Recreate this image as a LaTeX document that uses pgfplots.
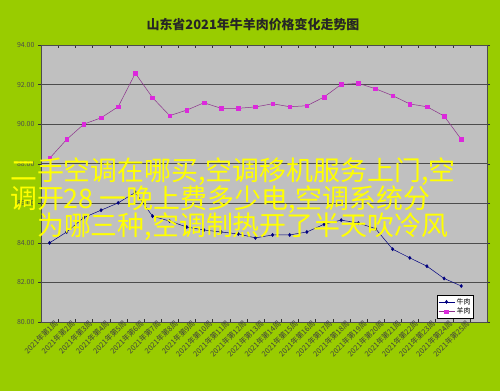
\documentclass[border=0pt]{standalone}
\usepackage{pgfplots}
\pgfplotsset{compat=1.18}
\usepackage{fontspec}
\setmainfont{Noto Sans CJK SC}
\definecolor{bg}{RGB}{153,204,0}
\definecolor{plotbg}{RGB}{192,192,192}
\definecolor{beef}{RGB}{0,0,128}
\definecolor{mutline}{RGB}{140,50,140}
\definecolor{mutmark}{RGB}{220,40,220}
\definecolor{overlay}{RGB}{255,255,0}
\begin{document}
\begin{tikzpicture}
\fill[bg] (0,0) rectangle (500bp,391bp);
\useasboundingbox (0,0) rectangle (500bp,391bp);
\node[font=\fontsize{13}{15}\selectfont\bfseries, text=black!85] at (253bp,366bp) {山东省2021年牛羊肉价格变化走势图};
\begin{axis}[
  at={(41bp,69bp)}, anchor=south west,
  width=446bp, height=277bp, scale only axis,
  xmin=0.5, xmax=26.5, ymin=80, ymax=94,
  axis background/.style={fill=plotbg},
  axis line style={black!70, line width=0.6bp},
  ytick={80,82,...,94},
  /pgf/number format/assume math mode=true,
  y tick label style={font=\fontsize{7}{8}\selectfont, text=black!70, /pgf/number format/fixed, /pgf/number format/fixed zerofill, /pgf/number format/precision=2},
  xtick={1,...,25},
  xticklabels={2021年第1周,2021年第2周,2021年第3周,2021年第4周,2021年第5周,2021年第6周,2021年第7周,2021年第8周,2021年第9周,2021年第10周,2021年第11周,2021年第12周,2021年第13周,2021年第14周,2021年第15周,2021年第16周,2021年第17周,2021年第18周,2021年第19周,2021年第20周,2021年第21周,2021年第22周,2021年第23周,2021年第24周,2021年第25周},
  x tick label style={font=\fontsize{7.5}{8}\selectfont, text=black!75, rotate=45, anchor=north east, inner sep=1bp, xshift=6bp},
  major x tick style={draw=none},
  minor xtick={0.5,1.5,...,26.5},
  minor x tick style={black!80},
  xtick align=inside, ytick align=outside,
  minor tick length=3bp, major tick length=3bp,
  major y tick style={black!80},
  ymajorgrids,
  major grid style={draw=black!70, line width=0.6bp},
  legend style={at={(rel axis cs:0.888,0.0975)}, anchor=north west, font=\fontsize{7}{8}\selectfont, draw=black, fill=white, inner sep=1bp, row sep=-1.5bp, cells={anchor=west}},
  legend image code/.code={\draw[#1, mark repeat=2, mark phase=2] plot coordinates {(0bp,0bp) (8bp,0bp) (16bp,0bp)};},
]
\addplot[beef, line width=0.5bp, mark=diamond*, mark size=1.6bp, mark options={fill=beef}] coordinates {
(1,84.00) (2,84.55) (3,85.28) (4,85.65) (5,86.02) (6,86.55) (7,85.35) (8,85.10) (9,84.80) (10,84.65) (11,84.55) (12,84.45) (13,84.25) (14,84.40) (15,84.40) (16,84.55) (17,84.94) (18,85.15) (19,85.00) (20,84.72) (21,83.68) (22,83.24) (23,82.82) (24,82.20) (25,81.82)};
\addlegendentry{牛肉}
\addplot[mutline, line width=0.5bp, mark=square*, mark size=1.8bp, mark options={fill=mutmark, draw=mutmark}] coordinates {
(1,88.27) (2,89.23) (3,90.00) (4,90.32) (5,90.88) (6,92.57) (7,91.34) (8,90.43) (9,90.71) (10,91.08) (11,90.80) (12,90.80) (13,90.87) (14,91.03) (15,90.88) (16,90.93) (17,91.37) (18,92.01) (19,92.06) (20,91.79) (21,91.44) (22,91.02) (23,90.88) (24,90.41) (25,89.23)};
\addlegendentry{羊肉}
\end{axis}
\node[anchor=west, inner sep=0, text=overlay, font=\fontsize{27}{28}\selectfont] at (10bp,219bp) {二手空调在哪买,空调移机服务上门,空};
\node[anchor=west, inner sep=0, text=overlay, font=\fontsize{27}{28}\selectfont] at (10bp,191bp) {调开28 一晚上费多少电,空调系统分};
\node[anchor=west, inner sep=0, text=overlay, font=\fontsize{27}{28}\selectfont] at (37bp,164bp) {为哪三种,空调制热开了半天吹冷风};
\end{tikzpicture}
\end{document}
